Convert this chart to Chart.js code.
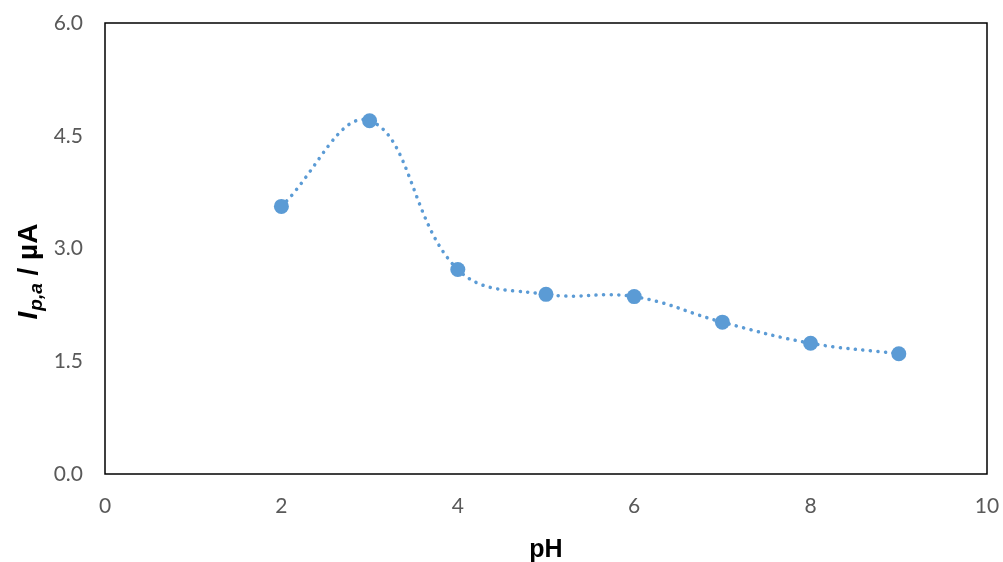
<!DOCTYPE html>
<html>
<head>
<meta charset="utf-8">
<script src="https://cdn.jsdelivr.net/npm/chart.js@4"></script>
<style>
  body { margin: 0; background: #fff; }
</style>
</head>
<body>
<canvas id="myChart" width="1003" height="562"></canvas>
<script>
const phValues = [2, 3, 4, 5, 6, 7, 8, 9];
const currentValues = [3.56, 4.70, 2.72, 2.39, 2.36, 2.02, 1.74, 1.60];
const xTicks = [0, 2, 4, 6, 8, 10];
const yTicks = [0, 1.5, 3, 4.5, 6];

const blue = "#5B9BD5";

// frame around the plot area plus the y title with its subscript
const framePlugin = {
    id: "frame",
    afterDraw(chart) {
        const ctx = chart.ctx;
        const a = chart.chartArea;
        ctx.save();
        ctx.strokeStyle = "#000";
        ctx.lineWidth = 1.5;
        ctx.strokeRect(a.left, a.top, a.right - a.left, a.bottom - a.top);

        // y axis title: I(p,a) / µA
        ctx.translate(29, 272);
        ctx.rotate(-Math.PI / 2);
        ctx.fillStyle = "#000";
        ctx.textBaseline = "middle";
        const big = "italic bold 28px 'Liberation Sans'";
        const small = "italic bold 19px 'Liberation Sans'";
        const rest = "bold 28px 'Liberation Sans'";
        ctx.font = big;
        const w1 = ctx.measureText("I").width;
        ctx.font = small;
        const w2 = ctx.measureText("p,a").width;
        ctx.font = rest;
        const w3 = ctx.measureText(" / µA").width;
        let x = -(w1 + w2 + w3) / 2;
        ctx.font = big;
        ctx.fillText("I", x, 0);
        x += w1 + 1;
        ctx.font = small;
        ctx.fillText("p,a", x, 8);
        x += w2;
        ctx.font = rest;
        ctx.fillText(" / µA", x, 0);
        ctx.restore();
    }
};

const ctx = document.getElementById("myChart").getContext("2d");
new Chart(ctx, {
    type: "scatter",
    data: {
        datasets: [{
            data: phValues.map((p, i) => ({ x: p, y: currentValues[i] })),
            showLine: true,
            tension: 0.4,
            borderColor: blue,
            borderWidth: 3.5,
            borderDash: [0.1, 7.5],
            borderCapStyle: "round",
            pointRadius: 7.5,
            pointBackgroundColor: blue,
            pointBorderColor: blue,
            pointBorderWidth: 0
        }]
    },
    options: {
        responsive: false,
        animation: false,
        layout: { padding: { top: 23, right: 16, left: 0, bottom: 0 } },
        plugins: {
            legend: { display: false },
            tooltip: { enabled: false }
        },
        scales: {
            x: {
                type: "linear",
                min: 0,
                max: 10,
                afterBuildTicks: scale => { scale.ticks = xTicks.map(v => ({ value: v })); },
                afterFit: scale => {
                    scale.height = 88;
                    scale.paddingLeft = 0;
                    scale.paddingRight = 0;
                },
                grid: { display: false, drawTicks: false },
                border: { display: false },
                ticks: {
                    padding: 20,
                    color: "#595959",
                    font: { family: "Lato", size: 21 }
                },
                title: {
                    display: true,
                    text: "pH",
                    color: "#000",
                    padding: { top: 22, bottom: -3 },
                    font: { family: "Liberation Sans", size: 25, weight: "bold" }
                }
            },
            y: {
                min: 0,
                max: 6,
                afterBuildTicks: scale => { scale.ticks = yTicks.map(v => ({ value: v })); },
                afterFit: scale => {
                    scale.width = 105;
                    scale.paddingTop = 0;
                    scale.paddingBottom = 0;
                },
                grid: { display: false, drawTicks: false },
                border: { display: false },
                ticks: {
                    padding: 22,
                    color: "#595959",
                    font: { family: "Lato", size: 21 },
                    callback: v => v.toFixed(1)
                }
            }
        }
    },
    plugins: [framePlugin]
});
</script>
</body>
</html>
